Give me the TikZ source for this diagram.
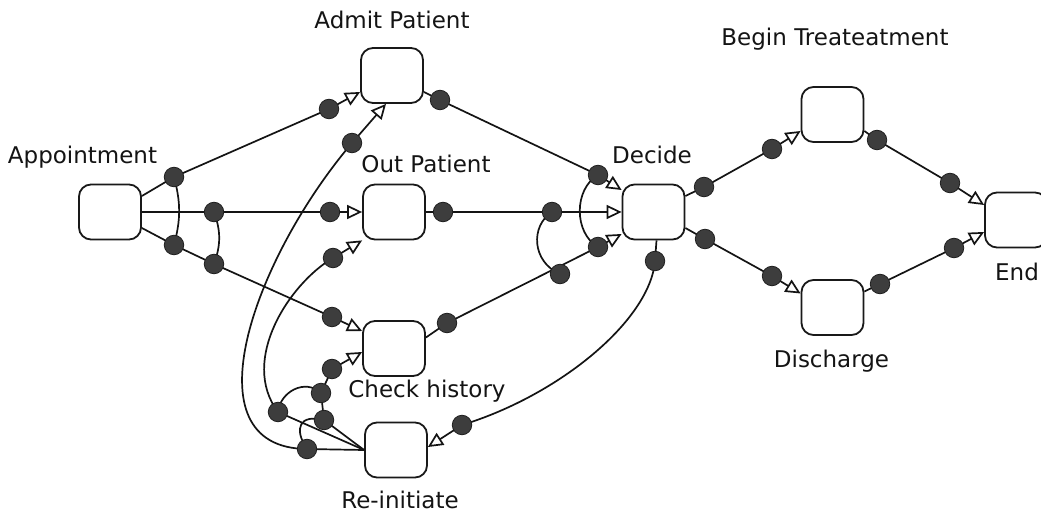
\documentclass[tikz,border=0pt]{standalone}
\usepackage{fontspec}
\setmainfont{DejaVu Sans}
\usetikzlibrary{arrows.meta,calc}
\begin{document}
\begin{tikzpicture}[x=1pt,y=-1pt,
  task/.style={draw=black!90, line width=1.8pt, rounded corners=12pt, fill=white,
               minimum width=62pt, minimum height=55pt, inner sep=0pt},
  lbl/.style={anchor=base, inner sep=0pt, font=\fontsize{23}{27}\selectfont, text=black!92},
  flow/.style={line width=1.7pt, draw=black!92, -{Triangle[open,length=15pt,width=14pt]}},
  binding/.style={line width=1.7pt, draw=black!92},
  dotmark/.style={circle, fill=black!76, draw=black!88, line width=0.8pt,
                  minimum size=19.5pt, inner sep=0pt}
]
\useasboundingbox (0,0) rectangle (1041,513);
\clip (0,0) rectangle (1041,513);
\fill[white] (0,0) rectangle (1041,513);

% activities
\node[task] (appt)   at (110,212)   {};
\node[task] (admit)  at (392,75.5)  {};
\node[task] (outp)   at (394,212)   {};
\node[task] (check)  at (394,348.5) {};
\node[task] (reinit) at (396,450)   {};
\node[task] (decide) at (653.5,212) {};
\node[task] (begin)  at (832.5,114.5) {};
\node[task] (disch)  at (832.5,307.5) {};
\node[task] (endn)   at (1016,220)  {};

% activity labels
\node[lbl] (lappt)   at (82.5,164) {Appointment};
\node[lbl] (ladmit)  at (392,29)   {Admit Patient};
\node[lbl] (loutp)   at (426,173)  {Out Patient};
\node[lbl] (lcheck)  at (427,397)  {Check history};
\node[lbl] (lreinit) at (400,508)  {Re-initiate};
\node[lbl] (ldecide) at (652,164)  {Decide};
\node[lbl] (lbegin)  at (835,46)   {Begin Treateatment};
\node[lbl] (ldisch)  at (831.5,367) {Discharge};
\node[lbl] (lend)    at (1017,280) {End};

% binding points on the arcs
\coordinate (a1) at (174,177);
\coordinate (a2) at (329,109);
\coordinate (b1) at (214,212);
\coordinate (b2) at (330,212);
\coordinate (c1) at (174,245);
\coordinate (c2) at (214,264);
\coordinate (c3) at (332,317);
\coordinate (d1) at (440,100);
\coordinate (d2) at (598,175);
\coordinate (e1) at (443,212);
\coordinate (e2) at (552,212);
\coordinate (f1) at (447,323);
\coordinate (f2) at (598,247);
\coordinate (f3) at (560,274);
\coordinate (g1) at (307,449);
\coordinate (g2) at (352,143);
\coordinate (h1) at (278,412);
\coordinate (h2) at (333,258);
\coordinate (i1) at (324,420);
\coordinate (i2) at (321,393);
\coordinate (i3) at (332,369);
\coordinate (j1) at (655,261);
\coordinate (j2) at (462,425);
\coordinate (k1) at (704,187);
\coordinate (k2) at (772,149);
\coordinate (k3) at (705,239);
\coordinate (k4) at (772,276);
\coordinate (m1) at (877,140);
\coordinate (m2) at (950,183);
\coordinate (n1) at (880,284);
\coordinate (n2) at (954,248);

% arcs
\draw[flow] ($(appt.east)+(0,-16)$) -- (a1) -- (a2) -- ($(admit.west)+(0,16.5)$);
\draw[flow] (appt.east) -- (b1) -- (b2) -- (outp.west);
\draw[flow] ($(appt.east)+(0,16)$) -- (c1) -- (c2) -- (c3) -- ($(check.west)+(0,-17.5)$);
\draw[flow] ($(admit.east)+(0,16.5)$) -- (d1) -- (d2) -- ($(decide.west)+(0,-22)$);
\draw[flow] (outp.east) -- (e1) -- (e2) -- (decide.west);
\draw[flow] ($(check.east)+(0,-11)$) -- (f1) -- (f2) -- ($(decide.west)+(0,22)$);
\draw[flow] (reinit.west) -- (g1) .. controls (185,448) and (255,257) .. (g2)
            -- ($(admit.south)+(-6,0)$);
\draw[flow] (reinit.west) -- (h1) .. controls (239,360) and (290,283) .. (h2)
            -- (outp.south west);
\draw[flow] (reinit.west) -- (i1) -- (i2) -- (i3) -- ($(check.west)+(0,3.5)$);
\draw[flow] ($(decide.south)+(3,0)$) -- (j1) .. controls (650,320) and (560,395) .. (j2)
            -- ($(reinit.east)+(0,-3)$);
\draw[flow] ($(decide.east)+(0,-16)$) -- (k1) -- (k2) -- ($(begin.west)+(0,16.5)$);
\draw[flow] ($(decide.east)+(0,16)$) -- (k3) -- (k4) -- ($(disch.west)+(0,-14)$);
\draw[flow] ($(begin.east)+(0,16.5)$) -- (m1) -- (m2) -- ($(endn.west)+(0,-15)$);
\draw[flow] ($(disch.east)+(0,-16)$) -- (n1) -- (n2) -- ($(endn.west)+(0,12)$);

% binding connectors
\draw[binding] (a1) to[bend left=15] (c1);
\draw[binding] (b1) to[bend left=20] (c2);
\draw[binding] (d2) to[bend right=60] (f2);
\draw[binding] (e2) .. controls +(-22,14) and +(-28,-12) .. (f3);
\draw[binding] (g1) .. controls (293,428) and (300,414) .. (i1);
\draw[binding] (h1) .. controls (280,392) and (305,378) .. (i2);

% binding dots
\foreach \p in {a1,a2,b1,b2,c1,c2,c3,d1,d2,e1,e2,f1,f2,f3,g1,g2,h1,h2,i1,i2,i3,
                j1,j2,k1,k2,k3,k4,m1,m2,n1,n2}
  \node[dotmark] at (\p) {};
\end{tikzpicture}
\end{document}
